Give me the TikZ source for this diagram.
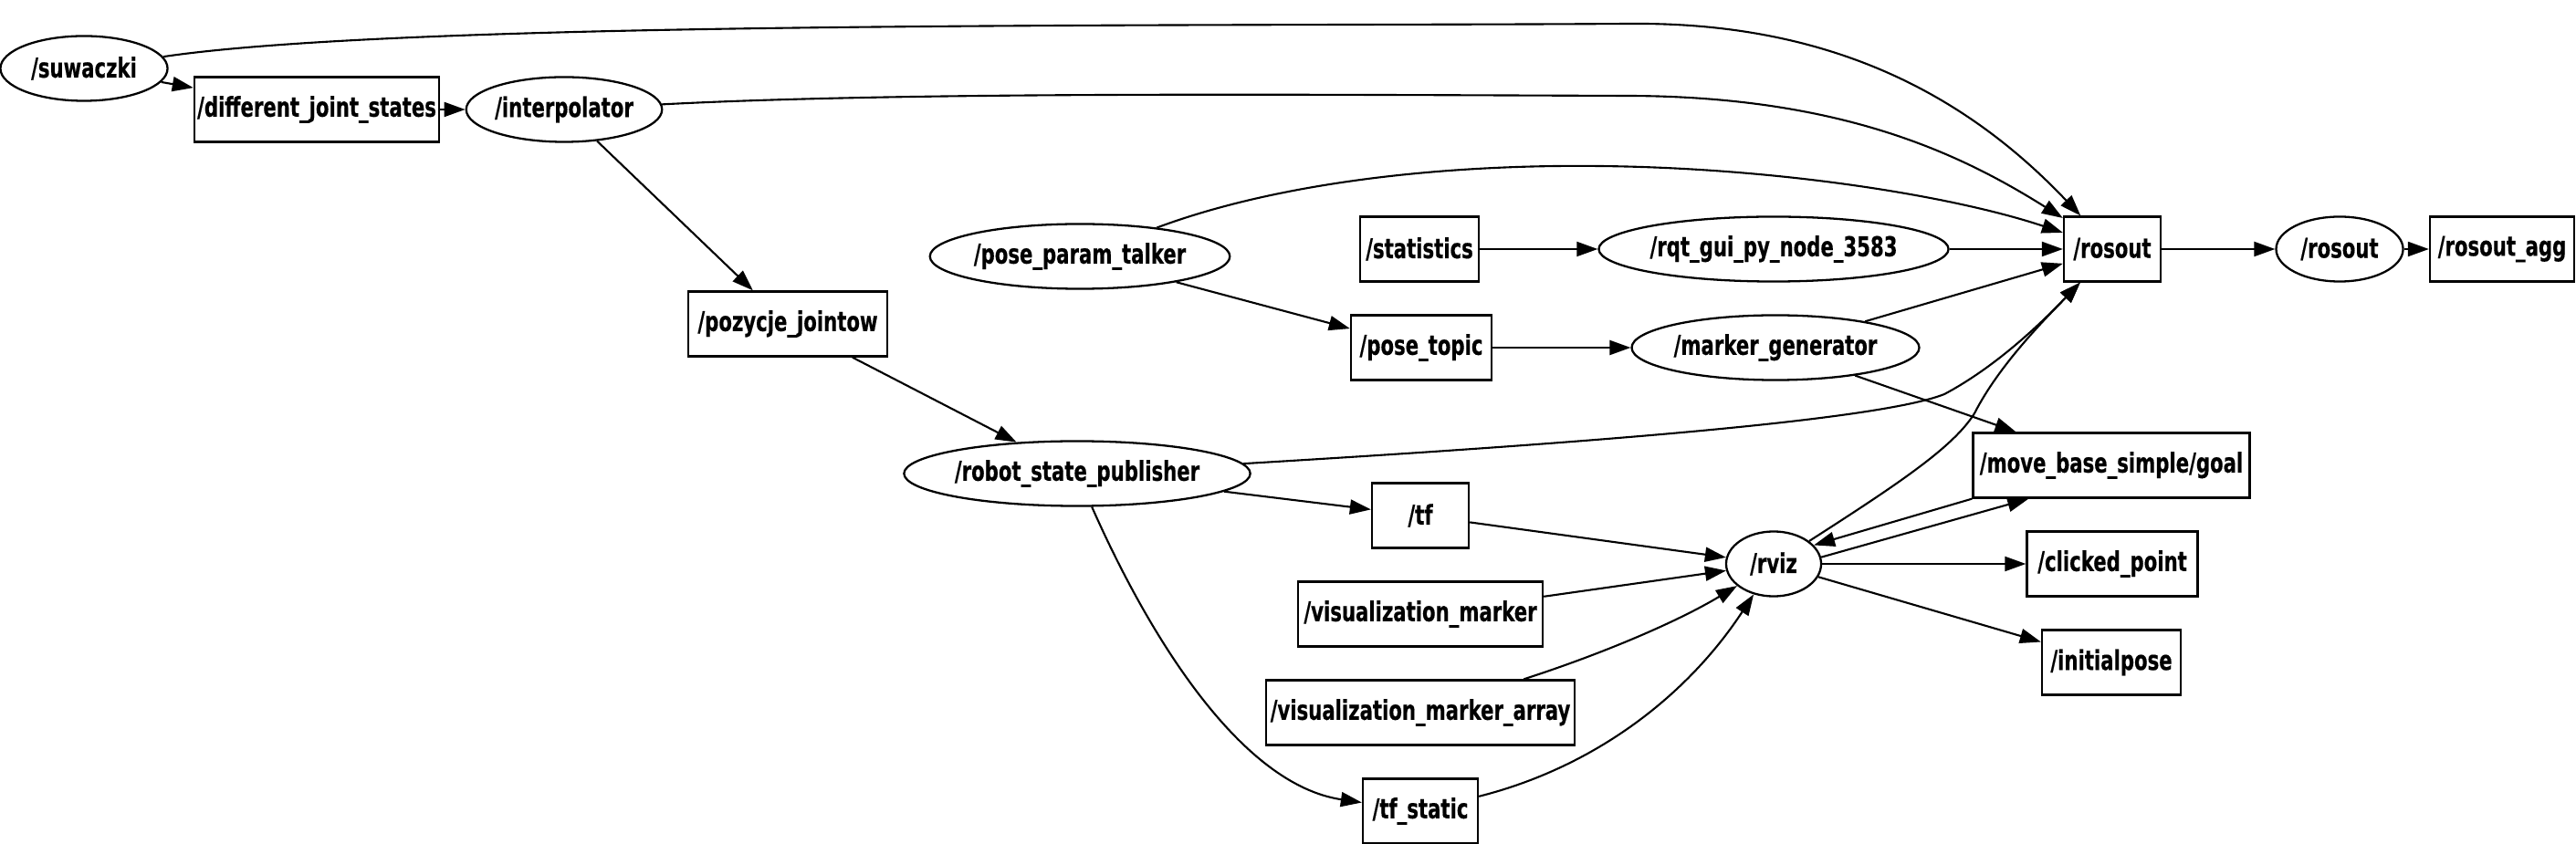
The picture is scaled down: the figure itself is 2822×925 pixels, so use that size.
\documentclass[tikz,border=0pt]{standalone}
\usepackage{fontspec}
\usepackage{tikz}
\usetikzlibrary{arrows.meta,shapes.geometric}
\newfontfamily\rosfont{DejaVu Sans}[FakeStretch=0.71,FakeBold=0.4]
\definecolor{rosInk}{RGB}{0,0,0}

\begin{document}
\begin{tikzpicture}[x=.01cm,y=-.01cm,>={Triangle[length=2.3mm,width=1.6mm]}]
\tikzset{
topic/.style={rectangle,draw=rosInk,line width=.65pt,inner sep=0pt,minimum height=.71cm,
font=\rosfont\bfseries\fontsize{8.5}{10}\selectfont},
rosnode/.style={ellipse,draw=rosInk,line width=.65pt,inner sep=0pt,minimum height=.71cm,
font=\rosfont\bfseries\fontsize{8.5}{10}\selectfont},
flow/.style={->,draw=rosInk,line width=.6pt}
}
\useasboundingbox (0,0) rectangle (2822,925);

\node[rosnode,minimum width=1.83cm] (sw) at (92,75) {/suwaczki};
\node[topic,minimum width=2.68cm] (djs) at (347,120) {/different\_joint\_states};
\node[rosnode,minimum width=2.12cm] (interp) at (618,120) {/interpolator};
\node[topic,minimum width=2.18cm] (pozycje) at (863,355) {/pozycje\_jointow};
\node[rosnode,minimum width=3.26cm] (ppt) at (1183,281) {/pose\_param\_talker};
\node[topic,minimum width=1.30cm] (stats) at (1555,273) {/statistics};
\node[rosnode,minimum width=3.80cm] (rqt) at (1943,273) {/rqt\_gui\_py\_node\_3583};
\node[topic,minimum width=1.06cm] (rosoutT) at (2314,273) {/rosout};
\node[rosnode,minimum width=1.39cm] (rosoutN) at (2563,273) {/rosout};
\node[topic,minimum width=1.58cm] (agg) at (2741,273) {/rosout\_agg};
\node[topic,minimum width=1.54cm] (posetopic) at (1557,381) {/pose\_topic};
\node[rosnode,minimum width=3.00cm] (markergen) at (1945,381) {/marker\_generator};
\node[topic,minimum width=3.03cm] (goal) at (2313,510) {/move\_base\_simple/goal};
\node[topic,minimum width=1.87cm] (clicked) at (2314,618) {/clicked\_point};
\node[topic,minimum width=1.52cm] (initpose) at (2313,726) {/initialpose};
\node[rosnode,minimum width=1.04cm] (rviz) at (1943,618) {/rviz};
\node[rosnode,minimum width=3.54cm] (rsp) at (1180,519) {/robot\_state\_publisher};
\node[topic,minimum width=1.06cm] (tf) at (1556,565) {/tf};
\node[topic,minimum width=2.68cm] (vm) at (1556,673) {/visualization\_marker};
\node[topic,minimum width=3.38cm] (vma) at (1556,781) {/visualization\_marker\_array};
\node[topic,minimum width=1.26cm] (tfstatic) at (1556,889) {/tf\_static};

% straight edges
\draw[flow] (sw) -- (djs);
\draw[flow] (djs) -- (interp);
\draw[flow] (interp) -- (pozycje);
\draw[flow] (pozycje) -- (rsp);
\draw[flow] (ppt) -- (posetopic);
\draw[flow] (stats) -- (rqt);
\draw[flow] (rqt) -- (rosoutT);
\draw[flow] (rosoutT) -- (rosoutN);
\draw[flow] (rosoutN) -- (agg);
\draw[flow] (posetopic) -- (markergen);
\draw[flow] (markergen) -- (rosoutT);
\draw[flow] (markergen) -- (goal);
\draw[flow] (rsp) -- (tf);
\draw[flow] (tf) -- (rviz);
\draw[flow] (vm) -- (rviz);
\draw[flow] (goal.south west) -- (rviz.25);
\draw[flow] (rviz.8) -- (goal.202);
\draw[flow] (rviz) -- (clicked);
\draw[flow] (rviz) -- (initpose);

% curved edges
\draw[flow] (sw) .. controls (450,22) and (1300,29) .. (1785,26)
  .. controls (2000,24) and (2150,100) .. (rosoutT);
\draw[flow] (interp) .. controls (1000,100) and (1450,104) .. (1785,105)
  .. controls (2020,106) and (2150,170) .. (rosoutT);
\draw[flow] (ppt) .. controls (1400,200) and (1580,180) .. (1752,182)
  .. controls (1950,184) and (2140,215) .. (rosoutT);
\draw[flow] (rsp) .. controls (1750,485) and (2060,460) .. (2130,432)
  .. controls (2190,400) and (2240,350) .. (rosoutT);
\draw[flow] (rviz) .. controls (2080,530) and (2140,490) .. (2163,453)
  .. controls (2190,400) and (2240,350) .. (rosoutT);
\draw[flow] (rsp) .. controls (1260,700) and (1360,860) .. (tfstatic);
\draw[flow] (tfstatic) .. controls (1750,840) and (1850,760) .. (rviz);
\draw[flow] (vma) .. controls (1760,715) and (1840,680) .. (rviz);
\end{tikzpicture}
\end{document}
